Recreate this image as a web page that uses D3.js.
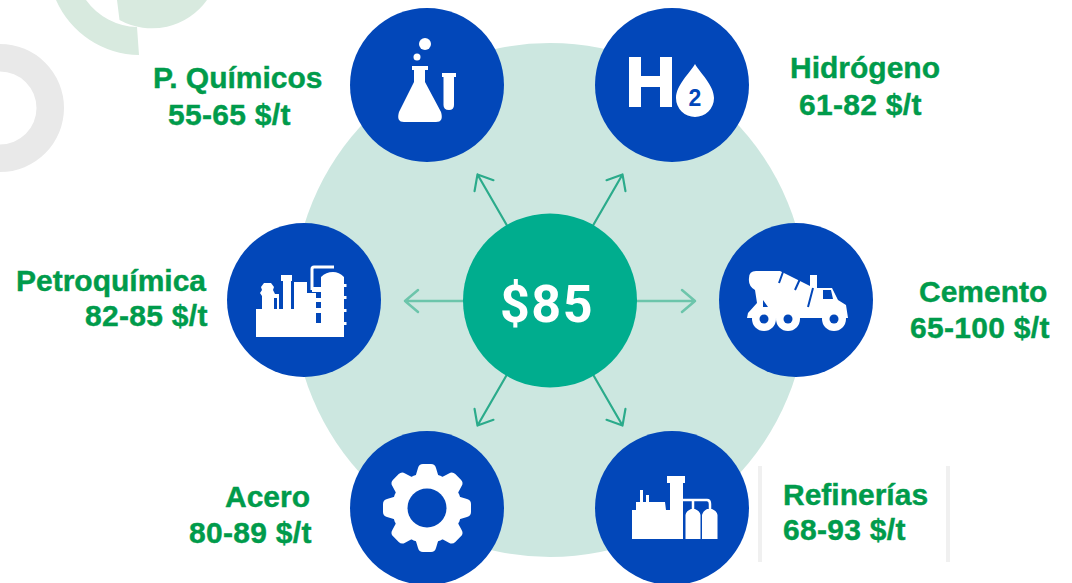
<!DOCTYPE html>
<html lang="es">
  <head>
    <meta charset="utf-8" />
    <title>Sectores y precio de CO2</title>
    <script src="https://d3js.org/d3.v7.min.js"></script>
    <style type="text/css">
      html, body { margin: 0; padding: 0; background: #fff; }
      svg { display: block; }
      .label { font-family: "Liberation Sans", Arial, sans-serif; font-weight: 700; font-size: 30px; fill: #009b4b; stroke: #009b4b; stroke-width: 0.4px; }
      .price { letter-spacing: 0.3px; }
    </style>
  </head>
  <body>
    <script type="text/javascript">
      // Data, clockwise from top right
      const sectors = ["Hidrógeno", "Cemento", "Refinerías", "Acero", "Petroquímica", "P. Químicos"];
      const priceLow = [61, 65, 68, 80, 82, 55];
      const priceHigh = [82, 100, 93, 89, 85, 65];
      const centerPrice = 85;
      const priceUnit = "$/t";

      //Width and height
      const w = 1072;
      const h = 583;
      const cx = 550;
      const cy = 300;

      const blue = "#0247b9";
      const white = "#ffffff";

      // Where each label's two lines sit: [x1, baseline1, x2, baseline2]
      const labelLayout = {
        "Hidrógeno": [790, 78, 799, 115],
        "Cemento": [919, 302, 910, 338],
        "Refinerías": [783, 505, 783, 540],
        "Acero": [225, 507, 189, 543],
        "Petroquímica": [16, 291, 85, 326],
        "P. Químicos": [153, 88, 168, 125],
      };

      // The rings in the source are not a perfect hexagon: [dx, dy] by angle
      const nodeShift = { "-60": [-1, -2], 240: [0, -2], 60: [-1, -5], 120: [0, -5] };

      const angle = d3.scalePoint().domain(sectors).range([-60, 240]);
      const radial = d3.scaleLinear().domain([0, 1]).range([0, 246]);

      const polar = function (deg, r) {
        const a = (deg * Math.PI) / 180;
        return [cx + r * Math.cos(a), cy + r * Math.sin(a)];
      };

      const svg = d3.select("body").append("svg").attr("width", w).attr("height", h);

      // Faded shapes in the top left corner
      svg.append("path")
        .attr("fill", "#e9e9e9")
        .attr("fill-rule", "evenodd")
        .attr("d", d3.arc()({ innerRadius: 36.5, outerRadius: 64, startAngle: 0, endAngle: Math.PI * 2 }))
        .attr("transform", "translate(0,108)");
      svg.append("path")
        .attr("fill", "#d8eadf")
        .attr("d", "M56,0 A92,92 0 0 0 139,55 L137,27 A65,65 0 0 1 86,0 Z");
      svg.append("path")
        .attr("fill", "#d8eadf")
        .attr("d", "M117,0 L119.500,20 A67.500,67.500 0 0 0 207,0 Z");

      // Pale lines either side of the Refinerías label
      svg.selectAll("rect.rule")
        .data([758, 946])
        .enter()
        .append("rect")
        .attr("class", "rule")
        .attr("x", (d) => d)
        .attr("y", 466)
        .attr("width", 4)
        .attr("height", 96)
        .attr("fill", "#f0f0f0");

      // Big pale disc
      svg.append("circle").attr("cx", cx).attr("cy", cy).attr("r", 257).attr("fill", "#cce7e0");

      // Arrows from the centre disc
      const arrows = svg.selectAll("g.arrow").data(sectors).enter().append("g").attr("class", "arrow");
      arrows.append("path")
        .attr("fill", "none")
        .attr("stroke-linecap", "round")
        .attr("stroke-linejoin", "round")
        .attr("stroke", (d) => (angle(d) % 180 === 0 ? "#6cc5ab" : "#2bab8b"))
        .attr("stroke-width", (d) => (angle(d) % 180 === 0 ? 2.5 : 2.2))
        .attr("transform", (d) => (angle(d) % 180 === 0 ? "translate(0,1)" : null))
        .attr("d", function (d) {
          const deg = angle(d);
          const start = polar(deg, 86);
          const tip = polar(deg, 145);
          const left = [tip[0] + 17 * Math.cos(((deg + 140) * Math.PI) / 180), tip[1] + 17 * Math.sin(((deg + 140) * Math.PI) / 180)];
          const right = [tip[0] + 17 * Math.cos(((deg - 140) * Math.PI) / 180), tip[1] + 17 * Math.sin(((deg - 140) * Math.PI) / 180)];
          return "M" + start + "L" + tip + "M" + left + "L" + tip + "L" + right;
        });

      // Centre disc
      svg.append("circle").attr("cx", cx).attr("cy", cy + 0.5).attr("r", 87).attr("fill", "#00ad8e");
      svg.append("text")
        .attr("x", 547)
        .attr("y", 322)
        .attr("text-anchor", "middle")
        .attr("font-family", "Roboto, Inter, sans-serif")
        .attr("font-weight", 700)
        .attr("font-size", 52)
        .attr("letter-spacing", 1.5)
        .attr("fill", white)
        .text("$" + centerPrice);

      // Blue discs, icons are drawn around (0,0)
      const nodes = svg.selectAll("g.node")
        .data(sectors)
        .enter()
        .append("g")
        .attr("class", "node")
        .attr("transform", function (d) {
          const p = polar(angle(d), radial(1));
          const shift = nodeShift[angle(d)] || [0, 0];
          return "translate(" + (p[0] + shift[0]) + "," + (p[1] + shift[1]) + ")";
        });
      nodes.append("circle").attr("r", 77).attr("fill", blue);

      const icons = {
        "P. Químicos": function (g) {
          g.append("path").attr("fill", white)
            .attr("d", "M-15,-19 H1 V-15 H-2 V-3 L14,27 Q17,37 9,37 H-23 Q-31,37 -28,27 L-13,-3 V-15 H-15 Z");
          g.append("path").attr("fill", white)
            .attr("d", "M15,-12 H29 V-8 H27 V20 Q27,25 22,25 Q16.500,25 16.500,20 V-8 H15 Z");
          g.append("circle").attr("cx", -2).attr("cy", -41).attr("r", 6).attr("fill", white);
          g.append("circle").attr("cx", -10).attr("cy", -28).attr("r", 3.5).attr("fill", white);
        },
        "Hidrógeno": function (g) {
          g.append("path").attr("fill", white)
            .attr("d", "M-43,-28 H-31 V-9 H-12 V-28 H0 V22 H-12 V2 H-31 V22 H-43 Z");
          g.append("path").attr("fill", white)
            .attr("d", "M23,-21 C28,-12 42,0 42,13 A19,19 0 0 1 4,13 C4,0 18,-12 23,-21 Z");
          g.append("text").attr("x", 23).attr("y", 21).attr("text-anchor", "middle")
            .attr("font-family", "Liberation Sans, sans-serif").attr("font-weight", 700)
            .attr("font-size", 23).attr("fill", blue).text("2");
        },
        "Petroquímica": function (g) {
          g.append("path").attr("fill", white)
            .attr("d", "M-48,9 H-42 V-4 L-44,-7 L-42,-10 L-43,-13 L-40,-17 H-33 L-30,-13 L-31,-10 L-29,-6 H-25 V9 H-21 V-19 H-23 V-25 H-12 V-19 H-13 V9 H-10 V-18 H3 V-7 H12 V37 H-48 Z");
          g.append("path").attr("fill", blue).attr("d", "M-30,-2 H-27 V9 H-30 Z");
          g.append("path").attr("fill", white)
            .attr("d", "M17,-23 Q22,-28 29,-28 Q35,-28 40,-23 V-16 H42.500 V-13 H40 V-4 H42.500 V-1 H40 V9 H42.500 V12 H40 V22 H42.500 V25 H40 V37 H17 Z");
          g.append("path").attr("fill", "none").attr("stroke", white).attr("stroke-width", 3)
            .attr("d", "M8,-10 V-31 Q8,-33 10,-33 H30");
          g.append("path").attr("fill", white)
            .attr("d", "M8,-13 H17 V-8 H8 Z M12,-2 H17 V2 H12 Z M12,8 H17 V13 H12 Z M12,23 H17 V37 H12 Z");
        },
        "Cemento": function (g) {
          g.append("path").attr("fill", white)
            .attr("d", "M-47,-22 Q-47,-29 -40,-29 H-16 L14,-14 V-25 H21 V-12 H36 L42,0 L50,5 L52,18 H-49 L-48,13 L-39,3 L-41,-10 Q-48,-14 -47,-22 Z");
          g.append("path").attr("fill", blue).attr("d", "M27,-10 H35 L37,-1 H27 Z M-33,0 L-28,7 H-33 Z");
          g.append("path").attr("fill", "none").attr("stroke", blue).attr("stroke-width", 2)
            .attr("d", "M-13,-28 L-17,-17 M4,-21 L-1,-10 M17,-12 L12,7");
          [-32, -8, 38].forEach(function (x) {
            g.append("circle").attr("cx", x).attr("cy", 19).attr("r", 12).attr("fill", white);
            g.append("circle").attr("cx", x).attr("cy", 19).attr("r", 4.5).attr("fill", blue);
          });
        },
        "Acero": function (g) {
          g.append("circle").attr("r", 35).attr("fill", white);
          g.selectAll("path.tooth")
            .data(d3.range(0, 360, 45))
            .enter()
            .append("path")
            .attr("class", "tooth")
            .attr("fill", white)
            .attr("d", "M-12,-30 L-9,-40 Q-8,-44 -4,-44 H4 Q8,-44 9,-40 L12,-30 Z")
            .attr("transform", (d) => "rotate(" + d + ")");
          g.append("circle").attr("r", 19.5).attr("fill", blue);
        },
        "Refinerías": function (g) {
          g.append("path").attr("fill", white)
            .attr("d", "M-40,31 V2 H-36 V-6 H-32 V-18 H-29 V-6 H-26 V-13 H-23 V-6 H-7 L-6,2 H-2 V-25 H-5 V-32 H13 V-25 H11 V31 Z");
          g.append("path").attr("fill", "none").attr("stroke", white).attr("stroke-width", 2.5)
            .attr("d", "M11,-8 H35 Q38,-8 38,-4 V3 M21,-8 V3");
          g.append("path").attr("fill", white)
            .attr("d", "M13.500,31 V7 Q14,3 19,1 H23 Q28,3 28.500,7 V31 Z M30,31 V7 Q31,3 35,1 H40 Q45,3 45.500,7 V31 Z");
        },
      };
      nodes.each(function (d) {
        icons[d](d3.select(this));
      });

      // Labels
      const labels = svg.selectAll("text.label").data(sectors).enter().append("text").attr("class", "label");
      labels.append("tspan")
        .attr("x", (d) => labelLayout[d][0])
        .attr("y", (d) => labelLayout[d][1])
        .text((d) => d);
      labels.append("tspan")
        .attr("class", "price")
        .attr("x", (d) => labelLayout[d][2])
        .attr("y", (d) => labelLayout[d][3])
        .text((d, i) => priceLow[i] + "-" + priceHigh[i] + " " + priceUnit);
    </script>
  </body>
</html>
